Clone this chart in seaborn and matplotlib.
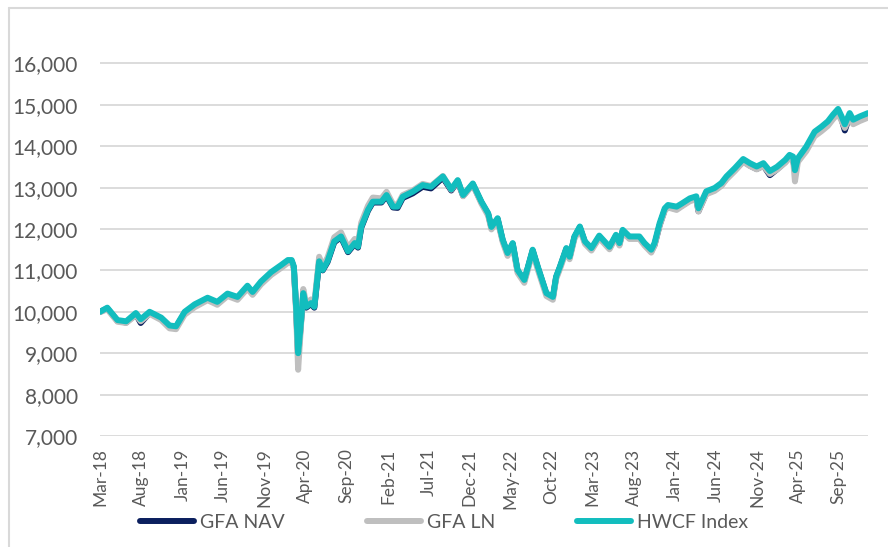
import pandas as pd
import matplotlib.pyplot as plt
import matplotlib.dates as mdates
from matplotlib.lines import Line2D
from matplotlib.ticker import FuncFormatter
import seaborn as sns

# Values (rebased to 10,000)
dates = [
    '2018-03-01', '2018-03-28', '2018-05-05', '2018-06-06', '2018-07-12', '2018-07-30',
    '2018-09-01', '2018-10-14', '2018-11-14', '2018-12-08', '2019-01-09', '2019-02-15',
    '2019-04-04', '2019-05-10', '2019-06-17', '2019-07-24', '2019-08-30', '2019-09-18',
    '2019-10-19', '2019-11-26', '2020-01-02', '2020-01-27', '2020-02-10', '2020-02-18',
    '2020-02-26', '2020-03-05', '2020-03-15', '2020-03-24', '2020-04-04', '2020-04-22',
    '2020-05-04', '2020-05-22', '2020-06-04', '2020-06-22', '2020-07-17', '2020-08-11',
    '2020-09-06', '2020-10-01', '2020-10-13', '2020-10-25', '2020-11-19', '2020-12-07',
    '2021-01-08', '2021-01-27', '2021-02-20', '2021-03-09', '2021-03-28', '2021-05-04',
    '2021-06-10', '2021-07-11', '2021-08-24', '2021-09-24', '2021-10-18', '2021-11-07',
    '2021-12-13', '2022-01-14', '2022-02-08', '2022-02-20', '2022-03-15', '2022-04-03',
    '2022-04-21', '2022-05-10', '2022-05-28', '2022-06-22', '2022-07-23', '2022-08-11',
    '2022-09-12', '2022-10-06', '2022-10-18', '2022-11-01', '2022-11-25', '2022-12-07',
    '2022-12-25', '2023-01-14', '2023-02-02', '2023-02-26', '2023-03-27', '2023-05-04',
    '2023-05-28', '2023-06-10', '2023-06-22', '2023-07-17', '2023-08-23', '2023-09-11',
    '2023-10-06', '2023-10-18', '2023-11-06', '2023-11-25', '2023-12-07', '2024-01-08',
    '2024-01-26', '2024-02-26', '2024-03-21', '2024-03-29', '2024-04-27', '2024-05-28',
    '2024-06-22', '2024-07-11', '2024-08-11', '2024-09-11', '2024-10-06', '2024-10-31',
    '2024-11-25', '2024-12-19', '2025-01-14', '2025-02-14', '2025-03-02', '2025-03-15',
    '2025-03-22', '2025-04-02', '2025-05-03', '2025-06-03', '2025-06-28', '2025-07-22',
    '2025-08-10', '2025-08-29', '2025-09-11', '2025-09-23', '2025-10-11', '2025-10-24',
    '2025-11-18', '2025-12-18',
]

hwcf_index = [
    10000, 10100, 9800, 9770, 9970, 9820, 10000, 9860, 9670, 9650, 10000, 10180,
    10340, 10240, 10440, 10360, 10630, 10480, 10730, 10960, 11130, 11250, 11250, 11100,
    10200, 9000, 9720, 10450, 10120, 10210, 10120, 11220, 11010, 11220, 11700, 11820,
    11460, 11660, 11570, 12050, 12460, 12660, 12660, 12820, 12540, 12540, 12780, 12900,
    13060, 13020, 13270, 12960, 13180, 12820, 13100, 12660, 12380, 12050, 12260, 11740,
    11420, 11660, 11010, 10770, 11500, 11090, 10450, 10360, 10850, 11090, 11540, 11330,
    11820, 12060, 11700, 11540, 11840, 11570, 11860, 11660, 11980, 11820, 11820, 11660,
    11500, 11660, 12140, 12500, 12580, 12540, 12610, 12740, 12790, 12500, 12910, 12990,
    13110, 13270, 13470, 13690, 13590, 13510, 13590, 13400, 13500, 13670, 13790, 13750,
    13420, 13710, 13990, 14350, 14470, 14600, 14760, 14900, 14720, 14530, 14800, 14640,
    14720, 14800,
]

gfa_ln = [
    9990, 10060, 9760, 9730, 9920, 9770, 9950, 9800, 9600, 9580, 9930, 10110,
    10280, 10170, 10380, 10290, 10560, 10410, 10660, 10890, 11060, 11180, 11190, 11050,
    10050, 8600, 9600, 10550, 10200, 10300, 10200, 11330, 11100, 11310, 11800, 11920,
    11550, 11760, 11660, 12150, 12560, 12760, 12740, 12900, 12600, 12590, 12820, 12930,
    13090, 13040, 13280, 12950, 13170, 12790, 13070, 12610, 12320, 11990, 12200, 11680,
    11350, 11600, 10940, 10700, 11440, 11020, 10380, 10290, 10790, 11030, 11480, 11270,
    11760, 12000, 11640, 11480, 11780, 11510, 11800, 11600, 11920, 11760, 11760, 11600,
    11430, 11600, 12080, 12440, 12520, 12460, 12540, 12670, 12720, 12420, 12840, 12920,
    13040, 13200, 13400, 13620, 13520, 13440, 13520, 13330, 13430, 13600, 13720, 13680,
    13150, 13620, 13880, 14240, 14360, 14490, 14650, 14790, 14610, 14440, 14690, 14530,
    14610, 14690,
]

gfa_nav = [
    10000, 10080, 9780, 9740, 9940, 9730, 9970, 9830, 9640, 9630, 9970, 10140,
    10300, 10200, 10410, 10320, 10590, 10440, 10690, 10920, 11090, 11210, 11220, 11070,
    10150, 8900, 9680, 10430, 10100, 10190, 10100, 11200, 11000, 11200, 11680, 11800,
    11440, 11640, 11550, 12030, 12440, 12640, 12640, 12800, 12520, 12510, 12750, 12860,
    13020, 12980, 13240, 12930, 13150, 12800, 13080, 12640, 12360, 12030, 12240, 11720,
    11400, 11640, 10990, 10750, 11480, 11070, 10430, 10340, 10830, 11070, 11520, 11310,
    11800, 12040, 11680, 11510, 11810, 11540, 11830, 11630, 11950, 11790, 11790, 11630,
    11460, 11610, 12090, 12460, 12540, 12480, 12560, 12690, 12740, 12430, 12860, 12940,
    13060, 13220, 13420, 13640, 13530, 13450, 13530, 13300, 13440, 13620, 13740, 13700,
    13380, 13670, 13940, 14300, 14420, 14550, 14710, 14850, 14650, 14380, 14740, 14590,
    14670, 14750,
]

series_names = ['GFA NAV', 'GFA LN', 'HWCF Index']
palette = {'GFA NAV': '#0B1F5E', 'GFA LN': '#BFBFBF', 'HWCF Index': '#12BDBE'}

# Long-format table for seaborn
df = pd.DataFrame({'Date': pd.to_datetime(dates)})
df['GFA NAV'] = gfa_nav
df['GFA LN'] = gfa_ln
df['HWCF Index'] = hwcf_index
long_df = df.melt(id_vars='Date', var_name='Series', value_name='Value')

sns.set_theme(style='white')
plt.rcParams['font.family'] = ['Lato', 'DejaVu Sans']

fig = plt.figure(figsize=(8.88, 5.47), dpi=100)
ax = fig.add_axes([100 / 888, 1 - 436 / 547, 768 / 888, 414 / 547])

sns.lineplot(
    data=long_df, x='Date', y='Value', hue='Series', hue_order=series_names,
    palette=palette, linewidth=4.3, estimator=None, sort=False, ax=ax,
    legend=False,
)
for line in ax.get_lines():
    line.set_solid_capstyle('round')
    line.set_solid_joinstyle('round')

# Axes styling
ax.set_ylim(7000, 17000)
ax.set_yticks(range(7000, 17000, 1000))
ax.yaxis.set_major_formatter(FuncFormatter(lambda v, _: f'{int(v):,}'))
ax.set_xlim(pd.Timestamp('2018-03-01'), pd.Timestamp('2025-12-18'))
ax.set_xticks(pd.date_range('2018-03-01', periods=19, freq='5MS'))
ax.xaxis.set_major_formatter(mdates.DateFormatter('%b-%y'))
ax.grid(axis='y', color='#D9D9D9', linewidth=1.3)
ax.set_axisbelow(True)
for s in ax.spines.values():
    s.set_visible(False)
ax.tick_params(axis='y', length=0, pad=16, labelsize=15, labelcolor='#595959')
ax.tick_params(axis='x', length=0, pad=9, labelsize=12.5, labelcolor='#595959',
               labelrotation=90)
ax.set_xlabel('')
ax.set_ylabel('')

# Legend below the date labels
handles = [Line2D([0], [0], color=palette[n], linewidth=4.3, solid_capstyle='round')
           for n in series_names]
fig.legend(handles, series_names, loc='center', bbox_to_anchor=(0.5, 1 - 522 / 547),
           ncol=3, frameon=False, fontsize=14, handlelength=2.8, handletextpad=0.3,
           columnspacing=4.2, labelcolor='#595959')

# Light frame on left and top edges, as in the source image
fig.add_artist(Line2D([9 / 888, 9 / 888], [0, 1 - 8 / 547], color='#D9D9D9', linewidth=1.5))
fig.add_artist(Line2D([9 / 888, 1], [1 - 8 / 547, 1 - 8 / 547], color='#D9D9D9', linewidth=1.5))

fig.savefig('out.png', dpi=100)
